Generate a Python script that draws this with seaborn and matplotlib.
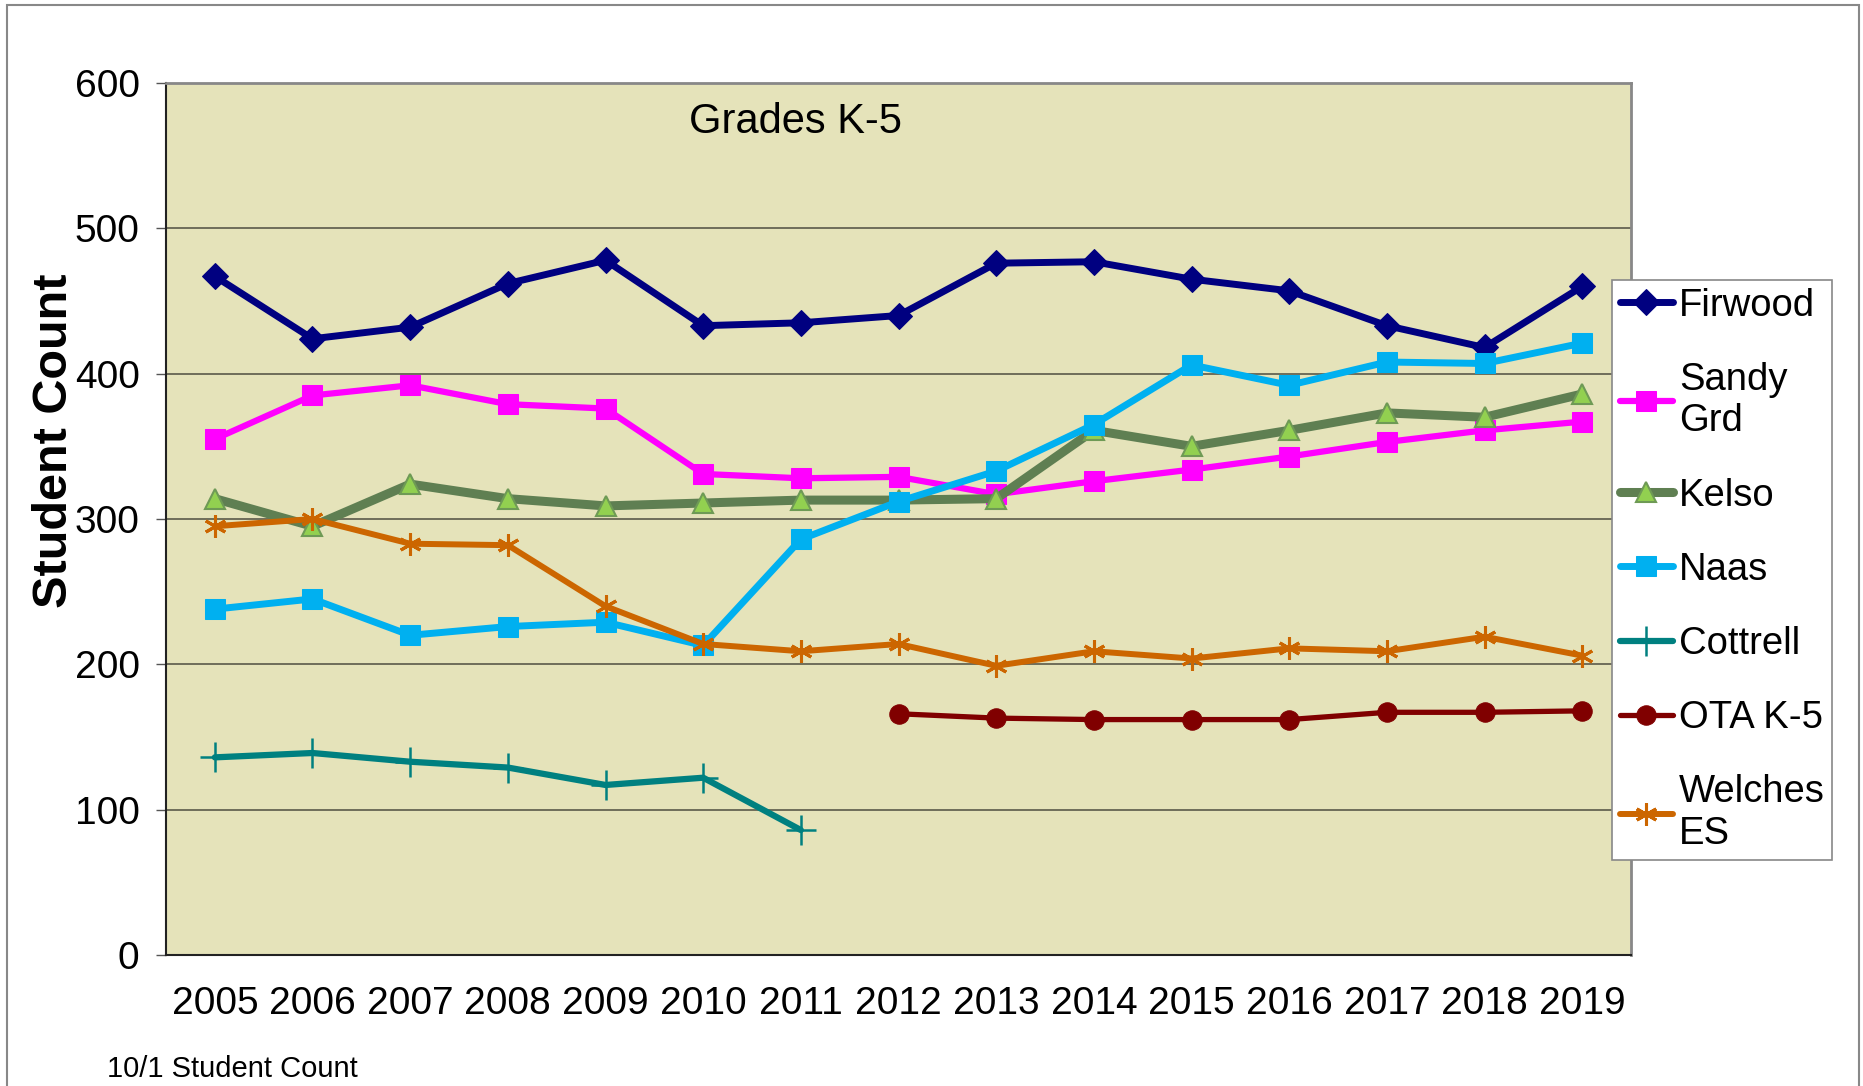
import matplotlib
matplotlib.use("Agg")
import matplotlib.pyplot as plt
import matplotlib.patches as patches
import seaborn as sns
import pandas as pd

years = list(range(2005, 2020))

firwood = [467, 424, 432, 462, 478, 433, 435, 440, 476, 477, 465, 457, 433, 418, 460]
sandy_grd = [355, 385, 392, 379, 376, 331, 328, 329, 317, 326, 334, 343, 353, 361, 367]
kelso = [314, 295, 324, 314, 309, 311, 313, 313, 314, 361, 350, 361, 373, 370, 386]
naas = [238, 245, 220, 226, 229, 213, 286, 312, 333, 365, 406, 392, 408, 407, 421]
cottrell_years = list(range(2005, 2012))
cottrell = [136, 139, 133, 129, 117, 122, 86]
ota_years = list(range(2012, 2020))
ota = [166, 163, 162, 162, 162, 167, 167, 168]
welches = [295, 300, 283, 282, 240, 214, 209, 214, 199, 209, 204, 211, 209, 219, 206]

sns.set_style("white")
plt.rcParams['font.family'] = ['Liberation Sans', 'DejaVu Sans']
plt.rcParams['text.color'] = 'black'
plt.rcParams['axes.labelcolor'] = 'black'
plt.rcParams['xtick.color'] = 'black'
plt.rcParams['ytick.color'] = 'black'

fig = plt.figure(figsize=(18.63, 10.86), dpi=100)
ax = fig.add_axes([0.0891, 0.1206, 0.7864, 0.8030])
ax.set_facecolor('#E5E3BA')

# horizontal gridlines
for v in range(100, 600, 100):
    ax.axhline(v, color='#5a5a4a', lw=1.2, zorder=0.5)

series = [
    ("Firwood", years, firwood, dict(color='#000080', marker='D', markersize=13, lw=5,
                                     markeredgecolor='#000080')),
    ("Sandy\nGrd", years, sandy_grd, dict(color='#FF00FF', marker='s', markersize=15, lw=4.5,
                                          markeredgecolor='#FF00FF')),
    ("Kelso", years, kelso, dict(color='#5F7F52', marker='^', markersize=14, lw=6.5,
                                 markerfacecolor='#92D050', markeredgecolor='#6E9A55', markeredgewidth=1.5)),
    ("Naas", years, naas, dict(color='#00B0F0', marker='s', markersize=15, lw=5,
                               markeredgecolor='#00B0F0')),
    ("Cottrell", cottrell_years, cottrell, dict(color='#008080', marker='+', markersize=22, lw=4.5,
                                                markeredgewidth=1.8, markeredgecolor='#008080')),
    ("OTA K-5", ota_years, ota, dict(color='#800000', marker='o', markersize=14, lw=3.8,
                                     markeredgecolor='#800000')),
    ("Welches\nES", years, welches, dict(color='#CC6600', marker=(6, 2, 0), markersize=16, lw=4.3,
                                         markeredgewidth=2.2, markeredgecolor='#CC6600')),
]

for name, xs, ys, style in series:
    df = pd.DataFrame({"year": xs, "count": ys})
    sns.lineplot(data=df, x="year", y="count", ax=ax, label=name, **style)

ax.set_xlim(2004.5, 2019.5)
ax.set_ylim(0, 600)
ax.set_yticks(range(0, 700, 100))
ax.set_xticks(years)
ax.set_xticklabels([str(y) for y in years])
ax.set_xticks([y - 0.5 for y in years] + [2019.5], minor=True)
ax.tick_params(axis='x', which='major', length=0, labelsize=28, pad=22)
ax.tick_params(axis='x', which='minor', length=7, width=1, color='#555555', direction='out')
ax.tick_params(axis='y', length=7, width=1, color='#555555', labelsize=28, pad=12, direction='out')
ax.tick_params(left=True, bottom=True)

for s in ['left', 'bottom']:
    ax.spines[s].set_color('#222222')
    ax.spines[s].set_linewidth(1.5)
for s in ['top', 'right']:
    ax.spines[s].set_color('#888888')
    ax.spines[s].set_linewidth(2)

ax.set_xlabel("")
ax.set_ylabel("Student Count", fontsize=35, fontweight='bold')
ax.yaxis.set_label_coords(-0.061, 0.59)

ax.text(0.43, 0.955, "Grades K-5", transform=ax.transAxes, fontsize=30,
        ha='center', va='center')

leg = ax.legend(loc='upper left', bbox_to_anchor=(0.8653, 0.7422), bbox_transform=fig.transFigure,
                fontsize=27.5, frameon=True, fancybox=False, framealpha=1, edgecolor='#888888',
                labelspacing=1.0, handlelength=1.4, handletextpad=0.15, borderpad=0.2,
                borderaxespad=0)
leg.get_frame().set_linewidth(1.2)

fig.text(0.0574, 0.016, "10/1 Student Count", fontsize=21, ha='left', va='center')

fig.patches.append(patches.Rectangle((0.0038, -0.01), 0.9942, 1.0054, transform=fig.transFigure,
                                     fill=False, edgecolor='#888888', lw=1.5))

fig.savefig("out.png", dpi=100)
